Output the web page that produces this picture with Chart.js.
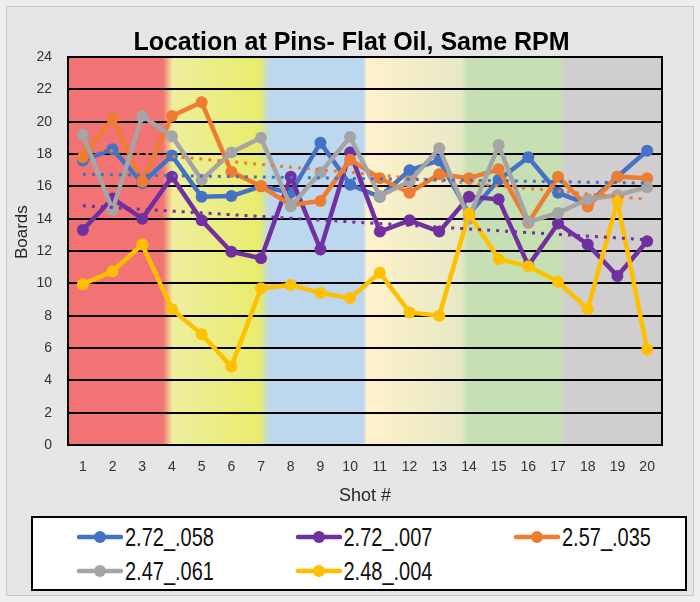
<!DOCTYPE html>
<html>
<head>
<meta charset="utf-8">
<title>Location at Pins</title>
<script src="https://cdn.jsdelivr.net/npm/chart.js@4.4.1/dist/chart.umd.min.js"></script>
<style>
  body { margin: 0; background: #e6e6e6; }
  #wrap { position: relative; width: 700px; height: 602px; overflow: hidden; }
  #frame { position: absolute; left: 0; top: 0; width: 700px; height: 602px; box-sizing: border-box;
           border: 6px solid #efefef; box-shadow: inset 0 0 0 1px #c9c9c9; pointer-events: none; }
  #legend { position: absolute; left: 31px; top: 516px; width: 656px; height: 75px; box-sizing: border-box;
            border: 2px solid #000; background: #fff;
            font-family: 'Liberation Sans', sans-serif; font-size: 20px; color: #111; }
  .item { position: absolute; height: 26px; display: flex; align-items: center; white-space: nowrap; }
  .item canvas { margin-right: 2px; }
  .item span { display: inline-block; transform: scaleY(1.3); }
</style>
</head>
<body>
<div id="wrap">
  <canvas id="chart" width="700" height="602"></canvas>
  <div id="legend"></div>
  <div id="frame"></div>
</div>
<script>
// values
var shots = ['1', '2', '3', '4', '5', '6', '7', '8', '9', '10',
             '11', '12', '13', '14', '15', '16', '17', '18', '19', '20'];
var s272_058 = [17.6, 18.3, 16.2, 17.9, 15.35, 15.4, 16.0, 15.6, 18.7, 16.1, 15.35, 17.0, 17.6, 14.3, 16.4, 17.8, 15.6, 14.9, 16.6, 18.2];
var s272_007 = [13.3, 15.25, 14.0, 16.6, 13.9, 11.95, 11.55, 16.6, 12.1, 18.1, 13.2, 13.9, 13.2, 15.35, 15.2, 11.1, 13.7, 12.4, 10.45, 12.6];
var s257_035 = [17.8, 20.2, 16.3, 20.35, 21.2, 16.9, 16.0, 14.85, 15.1, 17.65, 16.5, 15.6, 16.75, 16.5, 17.05, 13.75, 16.6, 14.75, 16.6, 16.5];
var s247_061 = [19.2, 14.55, 20.35, 19.1, 16.4, 18.1, 19.0, 14.75, 16.85, 19.05, 15.4, 16.3, 18.35, 14.0, 18.55, 13.8, 14.35, 15.2, 15.45, 15.95];
var s248_004 = [9.95, 10.75, 12.4, 8.4, 6.85, 4.85, 9.7, 9.9, 9.4, 9.1, 10.65, 8.2, 8.0, 14.3, 11.5, 11.05, 10.1, 8.4, 15.05, 5.9];
// dotted trendlines, value at shot 1 and shot 20
var trend058 = [16.75, 16.2];
var trend007 = [14.8, 12.7];
var trend035 = [18.35, 15.2];

var FONT = "'Liberation Sans', sans-serif";

function series(label, data, color, order) {
  return {
    label: label, data: data, order: order,
    borderColor: color, backgroundColor: color,
    borderWidth: 4.5, tension: 0,
    pointRadius: 6, pointHoverRadius: 6, pointBorderWidth: 0,
    pointBackgroundColor: color
  };
}

function trend(t, color) {
  return {
    label: 'trend', isTrend: true, order: 0,
    data: [{x: shots[0], y: t[0]}, {x: shots[shots.length - 1], y: t[1]}],
    borderColor: color, borderWidth: 3, borderDash: [3, 6],
    pointRadius: 0, pointHoverRadius: 0, fill: false
  };
}

// coloured background bands + plot frame
var bandsPlugin = {
  id: 'bands',
  beforeDraw: function(chart) {
    var a = chart.chartArea, ctx = chart.ctx;
    var g = ctx.createLinearGradient(a.left, 0, a.right, 0);
    g.addColorStop(0, '#f27374');
    g.addColorStop(0.160, '#f27374');
    g.addColorStop(0.176, '#eeee9e');
    g.addColorStop(0.322, '#e8ec6c');
    g.addColorStop(0.340, '#bdd7ee');
    g.addColorStop(0.497, '#bdd7ee');
    g.addColorStop(0.503, '#fff2cc');
    g.addColorStop(0.660, '#e7e9c4');
    g.addColorStop(0.674, '#c6e0b4');
    g.addColorStop(0.828, '#c6e0b4');
    g.addColorStop(0.838, '#d0cece');
    g.addColorStop(1, '#d0cece');
    ctx.save();
    ctx.fillStyle = g;
    ctx.fillRect(a.left, a.top, a.right - a.left, a.bottom - a.top);
    ctx.restore();
  },
  beforeDatasetsDraw: function(chart) {
    var a = chart.chartArea, ctx = chart.ctx;
    ctx.save();
    ctx.strokeStyle = '#000';
    ctx.lineWidth = 2;
    ctx.strokeRect(a.left, a.top, a.right - a.left, a.bottom - a.top);
    ctx.restore();
  }
};

var ctx = document.getElementById('chart');
var myChart = new Chart(ctx, {
  type: 'line',
  data: {
    labels: shots,
    datasets: [
      series('2.72_.058', s272_058, '#4472c4', 5),
      series('2.72_.007', s272_007, '#7030a0', 4),
      series('2.57_.035', s257_035, '#ed7d31', 3),
      series('2.47_.061', s247_061, '#a5a5a5', 2),
      series('2.48_.004', s248_004, '#ffc000', 1),
      trend(trend058, '#4472c4'),
      trend(trend007, '#7030a0'),
      trend(trend035, '#ed7d31')
    ]
  },
  options: {
    responsive: false,
    animation: false,
    layout: { padding: { left: 8, right: 5, top: 0, bottom: 91 } },
    plugins: {
      legend: { display: false },
      tooltip: { enabled: false },
      title: {
        display: true,
        text: 'Location at Pins- Flat Oil, Same RPM',
        color: '#000',
        font: { family: FONT, size: 25, weight: 'bold' },
        padding: { top: 28, bottom: -1 }
      }
    },
    scales: {
      x: {
        offset: true,
        grid: { display: false, drawTicks: false },
        border: { display: false },
        ticks: { color: '#333', padding: 14, font: { family: FONT, size: 14 }, maxRotation: 0, autoSkip: false },
        title: { display: true, text: 'Shot #', color: '#262626', font: { family: FONT, size: 18 }, padding: { top: 10, bottom: 4 } },
        afterFit: function(scale) { scale.height = 66; }
      },
      y: {
        min: 0, max: 24,
        grid: { color: '#000', lineWidth: 2, drawTicks: false },
        border: { display: false },
        ticks: { stepSize: 2, color: '#333', padding: 16, font: { family: FONT, size: 14 } },
        // leading blanks push the label a little above the middle, as in the original
        title: { display: true, text: '        Boards', color: '#262626', font: { family: FONT, size: 17 }, padding: { top: 4, bottom: 4 } },
        afterFit: function(scale) { scale.width = 60; }
      },
      // empty right-hand axis, only keeps the plot clear of the right edge
      yRight: {
        position: 'right',
        grid: { display: false, drawTicks: false },
        border: { display: false },
        ticks: { display: false },
        afterFit: function(scale) { scale.width = 33; }
      }
    }
  },
  plugins: [bandsPlugin]
});

// html legend, three columns like the original
function markerIcon(color) {
  var c = document.createElement('canvas');
  c.width = 46; c.height = 14;
  var g = c.getContext('2d');
  g.strokeStyle = color; g.lineWidth = 4.5; g.lineCap = 'round';
  g.beginPath(); g.moveTo(2, 7); g.lineTo(44, 7); g.stroke();
  g.fillStyle = color;
  g.beginPath(); g.arc(23, 7, 6, 0, Math.PI * 2); g.fill();
  return c;
}

var legendBox = document.getElementById('legend');
var n = 0;
myChart.data.datasets.forEach(function(ds) {
  if (ds.isTrend) return;
  var item = document.createElement('div');
  item.className = 'item';
  item.style.left = (44 + (n % 3) * 218.5) + 'px';
  item.style.top = (6 + Math.floor(n / 3) * 34) + 'px';
  item.appendChild(markerIcon(ds.borderColor));
  var span = document.createElement('span');
  span.textContent = ds.label;
  item.appendChild(span);
  legendBox.appendChild(item);
  n++;
});
</script>
</body>
</html>
